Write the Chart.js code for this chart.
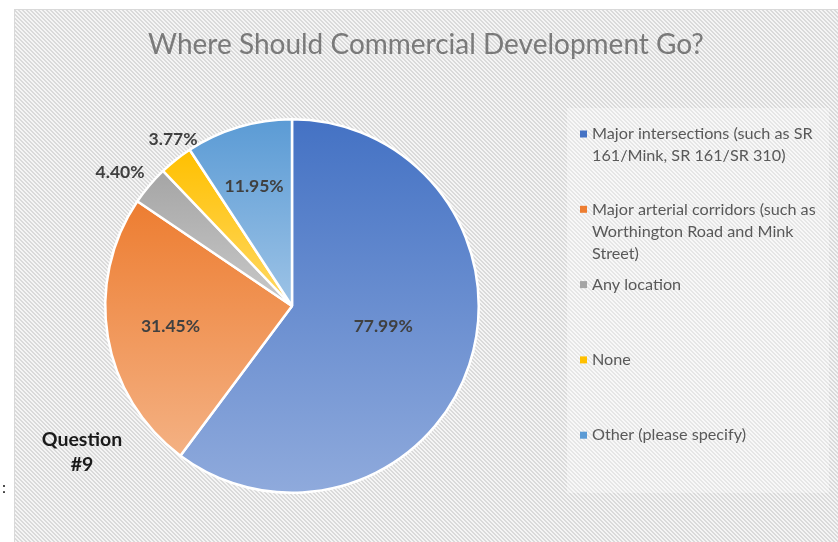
<!DOCTYPE html>
<html>
<head>
<meta charset="utf-8">
<script src="https://cdn.jsdelivr.net/npm/chart.js@4/dist/chart.umd.min.js"></script>
<style>
  html, body { margin: 0; padding: 0; background: #fff; }
  canvas { display: block; }
</style>
</head>
<body>
<canvas id="c" width="838" height="542"></canvas>
<script>
// Survey answers, Question #9
const categories = [
  'Major intersections (such as SR 161/Mink, SR 161/SR 310)',
  'Major arterial corridors (such as Worthington Road and Mink Street)',
  'Any location',
  'None',
  'Other (please specify)'
];
const percents = [77.99, 31.45, 4.40, 3.77, 11.95];
const chartTitle = 'Where Should Commercial Development Go?';
const sideNote = ['Question', '#9'];

// slice colours: top of each slice -> bottom of each slice
const topColors = ['#4472C4', '#ED7D31', '#A5A5A5', '#FFC000', '#5B9BD5'];
const bottomColors = ['#8FAADC', '#F4B183', '#C9C9C9', '#FFD966', '#9DC3E6'];
// value label placement: distance from the centre (share of radius) and angular nudge (degrees)
const labelRadius = [0.5, 0.66, 1.167, 1.098, 0.67];
const labelNudge = [-6, 0, -2.3, 3, -1];

const FONT = 'Lato, "Open Sans", sans-serif';
const BORDER = 2.5;

function sliceGradient(c) {
  const chart = c.chart;
  const area = chart.chartArea;
  const i = c.dataIndex;
  if (!area) return topColors[i];
  const cx = (area.left + area.right) / 2, cy = (area.top + area.bottom) / 2;
  const r = (Math.min(area.width, area.height) - BORDER) / 2;
  const total = percents.reduce((a, b) => a + b, 0);
  let a0 = -Math.PI / 2;
  for (let k = 0; k < i; k++) a0 += 2 * Math.PI * percents[k] / total;
  const a1 = a0 + 2 * Math.PI * percents[i] / total;
  const ys = [cy, cy + r * Math.sin(a0), cy + r * Math.sin(a1)];
  [-Math.PI / 2, Math.PI / 2, 3 * Math.PI / 2].forEach(a => {
    if (a >= a0 && a <= a1) ys.push(cy + r * Math.sin(a));
  });
  const y0 = Math.min(...ys), y1 = Math.max(...ys);
  const g = chart.ctx.createLinearGradient(0, y0, 0, y1);
  g.addColorStop(0, topColors[i]);
  g.addColorStop(1, bottomColors[i]);
  return g;
}

function hatch(ctx) {
  const p = document.createElement('canvas');
  p.width = 4; p.height = 4;
  const pc = p.getContext('2d');
  pc.fillStyle = '#f5f5f5';
  pc.fillRect(0, 0, 4, 4);
  pc.fillStyle = '#dadada';
  for (let y = 0; y < 4; y++) {
    pc.fillRect(y % 4, y, 1, 1);
    pc.fillRect((y + 1) % 4, y, 1, 1);
  }
  return ctx.createPattern(p, 'repeat');
}

const backdrop = {
  id: 'backdrop',
  beforeDraw(chart) {
    const ctx = chart.ctx;
    ctx.save();
    ctx.fillStyle = '#fff';
    ctx.fillRect(0, 0, chart.width, chart.height);
    ctx.fillStyle = hatch(ctx);
    ctx.fillRect(14, 9, chart.width - 14, chart.height - 9);
    ctx.strokeStyle = '#d9d9d9';
    ctx.lineWidth = 1;
    ctx.strokeRect(14.5, 9.5, chart.width, chart.height);
    // legend panel
    ctx.fillStyle = 'rgba(255,255,255,0.32)';
    ctx.fillRect(567, 108, 262, 385);
    // title
    ctx.fillStyle = '#7a7a7a';
    ctx.font = '28px ' + FONT;
    ctx.textAlign = 'center';
    ctx.textBaseline = 'middle';
    ctx.fillText(chartTitle, 426, 45);
    // side note
    ctx.fillStyle = '#1a1a1a';
    ctx.font = 'bold 19.5px ' + FONT;
    sideNote.forEach((t, k) => ctx.fillText(t, 82, 440 + k * 25));
    ctx.fillStyle = '#222';
    ctx.font = '16px ' + FONT;
    ctx.textAlign = 'left';
    ctx.fillText(':', 2, 488);
    ctx.restore();
  }
};

const valueLabels = {
  id: 'valueLabels',
  afterDatasetsDraw(chart) {
    const ctx = chart.ctx;
    const arcs = chart.getDatasetMeta(0).data;
    ctx.save();
    ctx.fillStyle = '#404040';
    ctx.font = 'bold 17.5px ' + FONT;
    ctx.textAlign = 'center';
    ctx.textBaseline = 'middle';
    arcs.forEach((arc, i) => {
      const mid = (arc.startAngle + arc.endAngle) / 2 + labelNudge[i] * Math.PI / 180;
      const d = arc.outerRadius * labelRadius[i];
      ctx.fillText(percents[i].toFixed(2) + '%', arc.x + d * Math.cos(mid), arc.y + d * Math.sin(mid));
    });
    ctx.restore();
  }
};

function wrap(ctx, text, maxW) {
  const words = text.split(' ');
  const lines = [];
  let line = '';
  words.forEach(w => {
    const t = line ? line + ' ' + w : w;
    if (ctx.measureText(t).width > maxW && line) { lines.push(line); line = w; }
    else line = t;
  });
  if (line) lines.push(line);
  return lines;
}

const sideLegend = {
  id: 'sideLegend',
  afterDraw(chart) {
    const ctx = chart.ctx;
    ctx.save();
    ctx.font = '16.2px ' + FONT;
    ctx.textAlign = 'left';
    ctx.textBaseline = 'middle';
    categories.forEach((name, i) => {
      const y = 134 + i * 75.3;
      ctx.fillStyle = topColors[i];
      ctx.fillRect(580, y - 3.5, 7, 7);
      ctx.fillStyle = '#595959';
      wrap(ctx, name, 234).forEach((ln, k) => ctx.fillText(ln, 592, y + k * 22));
    });
    ctx.restore();
  }
};

function build() {
  new Chart(document.getElementById('c'), {
    type: 'pie',
    data: {
      labels: categories,
      datasets: [{
        data: percents,
        backgroundColor: sliceGradient,
        borderColor: '#ffffff',
        borderWidth: BORDER
      }]
    },
    options: {
      responsive: false,
      animation: false,
      devicePixelRatio: 1,
      layout: { padding: { left: 104, right: 358, top: 118, bottom: 48 } },
      plugins: {
        legend: { display: false },
        title: { display: false },
        tooltip: { enabled: false }
      }
    },
    plugins: [backdrop, valueLabels, sideLegend]
  });
}

Promise.all([
  document.fonts.load('28px Lato'),
  document.fonts.load('16px Lato'),
  document.fonts.load('bold 17px Lato')
]).then(build, build);
</script>
</body>
</html>
